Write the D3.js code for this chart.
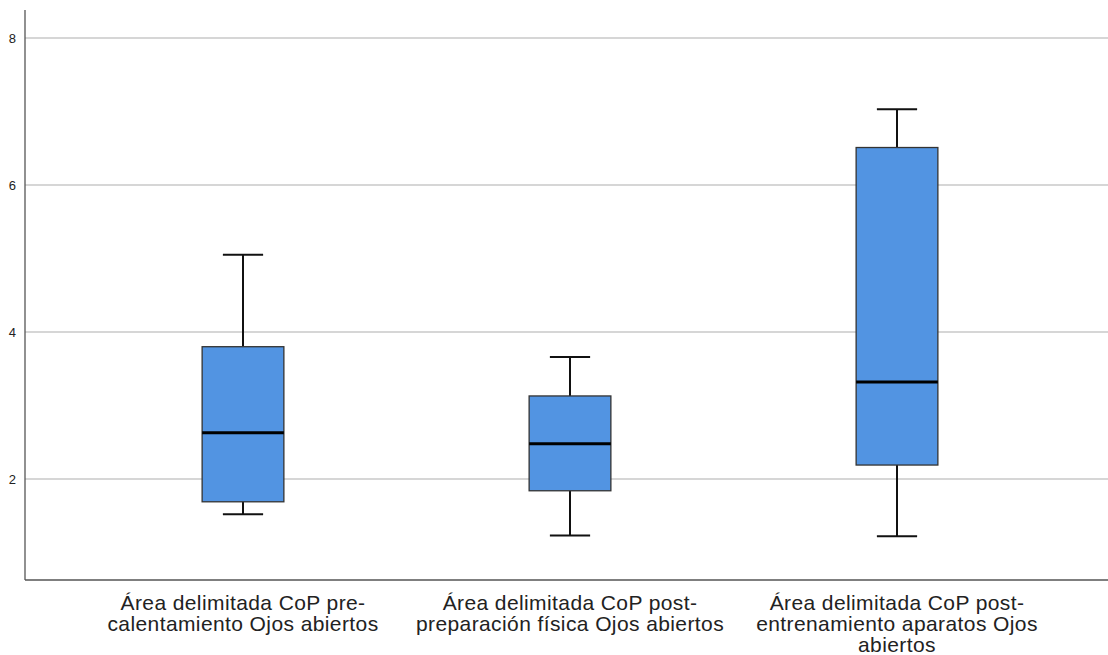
<!DOCTYPE html>
<html>
<head>
<meta charset="utf-8">
<script src="https://cdn.jsdelivr.net/npm/d3@7"></script>
<style>
  body { margin: 0; background: #fff; }
  svg { display: block; }
</style>
</head>
<body>
<svg id="chart" width="1108" height="655"></svg>
<script>
const categories = [
  ["Área delimitada CoP pre-", "calentamiento Ojos abiertos"],
  ["Área delimitada CoP post-", "preparación física Ojos abiertos"],
  ["Área delimitada CoP post-", "entrenamiento aparatos Ojos", "abiertos"]
];
const whiskerLow  = [1.52, 1.23, 1.22];
const q1          = [1.69, 1.84, 2.19];
const median      = [2.63, 2.48, 3.32];
const q3          = [3.80, 3.13, 6.51];
const whiskerHigh = [5.05, 3.66, 7.03];
const yTicks = [2, 4, 6, 8];

const svg = d3.select("#chart");
const axisLeftX = 25, axisRightX = 1108, plotTop = 10, plotBottom = 580;

const y = d3.scaleLinear().domain([0.626, 8.381]).range([plotBottom, plotTop]);
const x = d3.scaleBand().domain(d3.range(categories.length)).range([79.5, 1060.5]);
const boxW = x.bandwidth() * 0.25;
const capW = x.bandwidth() * 0.123;

// gridlines
svg.append("g").selectAll("line").data(yTicks).join("line")
  .attr("x1", axisLeftX).attr("x2", axisRightX)
  .attr("y1", d => y(d)).attr("y2", d => y(d))
  .attr("stroke", "#c8c8c8").attr("stroke-width", 1.3);

// y axis
const yAxis = svg.append("g").attr("transform", `translate(${axisLeftX},0)`)
  .call(d3.axisLeft(y).tickValues(yTicks).tickSize(0).tickPadding(9).tickFormat(d3.format("d")));
yAxis.select(".domain").remove();
yAxis.selectAll("text").attr("font-family", "Liberation Sans, Arial, sans-serif").attr("font-size", 13).attr("fill", "#222");

svg.append("line").attr("x1", axisLeftX).attr("x2", axisLeftX).attr("y1", plotTop).attr("y2", plotBottom)
  .attr("stroke", "#555").attr("stroke-width", 1.3);
svg.append("line").attr("x1", axisLeftX).attr("x2", axisRightX).attr("y1", plotBottom).attr("y2", plotBottom)
  .attr("stroke", "#555").attr("stroke-width", 1.3);

const idx = d3.range(categories.length);
const cx = i => x(i) + x.bandwidth() / 2;

const g = svg.append("g");
// whiskers
g.selectAll(".wl").data(idx).join("line")
  .attr("x1", cx).attr("x2", cx)
  .attr("y1", i => y(whiskerHigh[i])).attr("y2", i => y(q3[i]))
  .attr("stroke", "#111").attr("stroke-width", 2);
g.selectAll(".wl2").data(idx).join("line")
  .attr("x1", cx).attr("x2", cx)
  .attr("y1", i => y(q1[i])).attr("y2", i => y(whiskerLow[i]))
  .attr("stroke", "#111").attr("stroke-width", 2);
// caps
g.selectAll(".capH").data(idx).join("line")
  .attr("x1", i => cx(i) - capW / 2).attr("x2", i => cx(i) + capW / 2)
  .attr("y1", i => y(whiskerHigh[i])).attr("y2", i => y(whiskerHigh[i]))
  .attr("stroke", "#111").attr("stroke-width", 2);
g.selectAll(".capL").data(idx).join("line")
  .attr("x1", i => cx(i) - capW / 2).attr("x2", i => cx(i) + capW / 2)
  .attr("y1", i => y(whiskerLow[i])).attr("y2", i => y(whiskerLow[i]))
  .attr("stroke", "#111").attr("stroke-width", 2);
// boxes
g.selectAll(".box").data(idx).join("rect")
  .attr("x", i => cx(i) - boxW / 2).attr("width", boxW)
  .attr("y", i => y(q3[i])).attr("height", i => y(q1[i]) - y(q3[i]))
  .attr("fill", "#5294e2").attr("stroke", "#333").attr("stroke-width", 1.3);
// medians
g.selectAll(".med").data(idx).join("line")
  .attr("x1", i => cx(i) - boxW / 2).attr("x2", i => cx(i) + boxW / 2)
  .attr("y1", i => y(median[i])).attr("y2", i => y(median[i]))
  .attr("stroke", "#000").attr("stroke-width", 3);

// category labels
const lab = svg.append("g");
idx.forEach(i => {
  const t = lab.append("text")
    .attr("x", cx(i)).attr("y", 610)
    .attr("text-anchor", "middle")
    .attr("font-family", "Liberation Sans, Arial, sans-serif")
    .attr("font-size", 21).attr("letter-spacing", 0.4).attr("fill", "#222");
  categories[i].forEach((line, k) => {
    t.append("tspan").attr("x", cx(i)).attr("dy", k === 0 ? 0 : 21).text(line);
  });
});
</script>
</body>
</html>
